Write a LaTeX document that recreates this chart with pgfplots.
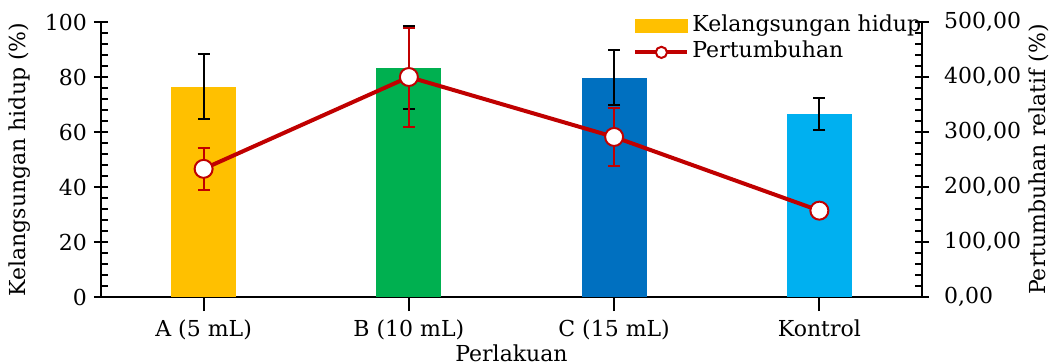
\documentclass[border=0pt]{standalone}
\usepackage{pgfplots}
\pgfplotsset{compat=1.18}
\usepackage{fontspec}
\setmainfont{DejaVu Serif}
\definecolor{cA}{HTML}{FFC000}
\definecolor{cB}{HTML}{00B050}
\definecolor{cC}{HTML}{0070C0}
\definecolor{cK}{HTML}{00B0F0}
\definecolor{lineRed}{HTML}{C00000}
\pgfplotsset{
  linelegend/.style={legend image code/.code={\draw[mark repeat=2,mark phase=2,##1,mark size=2.8pt] plot coordinates {(0pt,0pt) (13pt,0pt) (26pt,0pt)};}},
  barlegend/.style={legend image code/.code={\fill[cA] (0pt,-3.25pt) rectangle (26pt,3.25pt);}},
}
\begin{document}
\begin{tikzpicture}[font=\fontsize{11}{13}\selectfont]
\pgfplotsset{
  common/.style={
    scale only axis, width=410.5pt, height=137.5pt,
    xmin=-0.5, xmax=3.5,
    /pgf/number format/assume math mode=true,
    axis line style={line width=1pt, black},
    tick style={line width=1pt, black},
    tick align=center,
    major tick length=7pt,
    minor tick length=3.5pt,
  }
}
\begin{axis}[common,
  axis x line*=bottom, axis y line*=left,
  ymin=0, ymax=100, ytick={0,20,...,100}, minor y tick num=4,
  minor tick style={xshift=1.75pt},
  xtick={0,1,2,3}, xticklabels={A (5 mL), B (10 mL), C (15 mL), Kontrol},
  xticklabel style={yshift=-1pt},
  yticklabel style={xshift=0pt},
  xlabel={Perlakuan},
  xlabel style={at={(axis description cs:0.5,-0.205)}, anchor=center},
  ylabel={Kelangsungan hidup (\%)},
  ylabel style={at={(axis description cs:-0.0987,0.5)}, anchor=center, rotate=0},
  ybar, bar width=0.316, bar shift=0pt,
]
\addplot[fill=cA, draw=none, error bars/.cd, y dir=both, y explicit,
  error bar style={line width=1pt, black}, error mark options={rotate=90, mark size=3pt, line width=1pt, black}]
  coordinates {(0,76.5) +- (0,11.7)};
\addplot[fill=cB, draw=none, error bars/.cd, y dir=both, y explicit,
  error bar style={line width=1pt, black}, error mark options={rotate=90, mark size=3pt, line width=1pt, black}]
  coordinates {(1,83.3) +- (0,15.1)};
\addplot[fill=cC, draw=none, error bars/.cd, y dir=both, y explicit,
  error bar style={line width=1pt, black}, error mark options={rotate=90, mark size=3pt, line width=1pt, black}]
  coordinates {(2,79.8) +- (0,10.0)};
\addplot[fill=cK, draw=none, error bars/.cd, y dir=both, y explicit,
  error bar style={line width=1pt, black}, error mark options={rotate=90, mark size=3pt, line width=1pt, black}]
  coordinates {(3,66.5) +- (0,5.8)};
\end{axis}
\begin{axis}[common,
  axis x line=none, axis y line*=right,
  ymin=0, ymax=500, ytick={0,100,...,500}, minor y tick num=4,
  minor tick style={xshift=-1.75pt},
  yticklabel style={xshift=4pt, /pgf/number format/.cd, fixed, fixed zerofill, precision=2, use comma},
  ylabel={Pertumbuhan relatif (\%)},
  ylabel style={at={(axis description cs:1.1425,0.5)}, anchor=center, rotate=0},
  legend style={draw=none, fill=none, inner sep=0pt, at={(axis description cs:0.648,1.031)}, anchor=north west,
    nodes={inner sep=1.5pt, text height=7.5pt, text depth=2pt}, cells={anchor=west}, row sep=0.5pt},
]
\addlegendimage{barlegend}
\addplot[lineRed, line width=2pt, mark=*, mark size=4.5pt,
  mark options={fill=white, draw=lineRed, line width=1pt},
  linelegend,
  error bars/.cd, y dir=both, y explicit,
  error bar style={line width=1pt, lineRed}, error mark options={rotate=90, mark size=3pt, line width=1pt, lineRed}]
  coordinates {(0,233) +- (0,38.5) (1,400) +- (0,90) (2,291) +- (0,52) (3,157) +- (0,5)};
\legend{Kelangsungan hidup, Pertumbuhan}
\end{axis}
\pgfresetboundingbox
\path[use as bounding box] (-50.5pt,-33.5pt) rectangle (475pt,148.5pt);
\end{tikzpicture}
\end{document}
